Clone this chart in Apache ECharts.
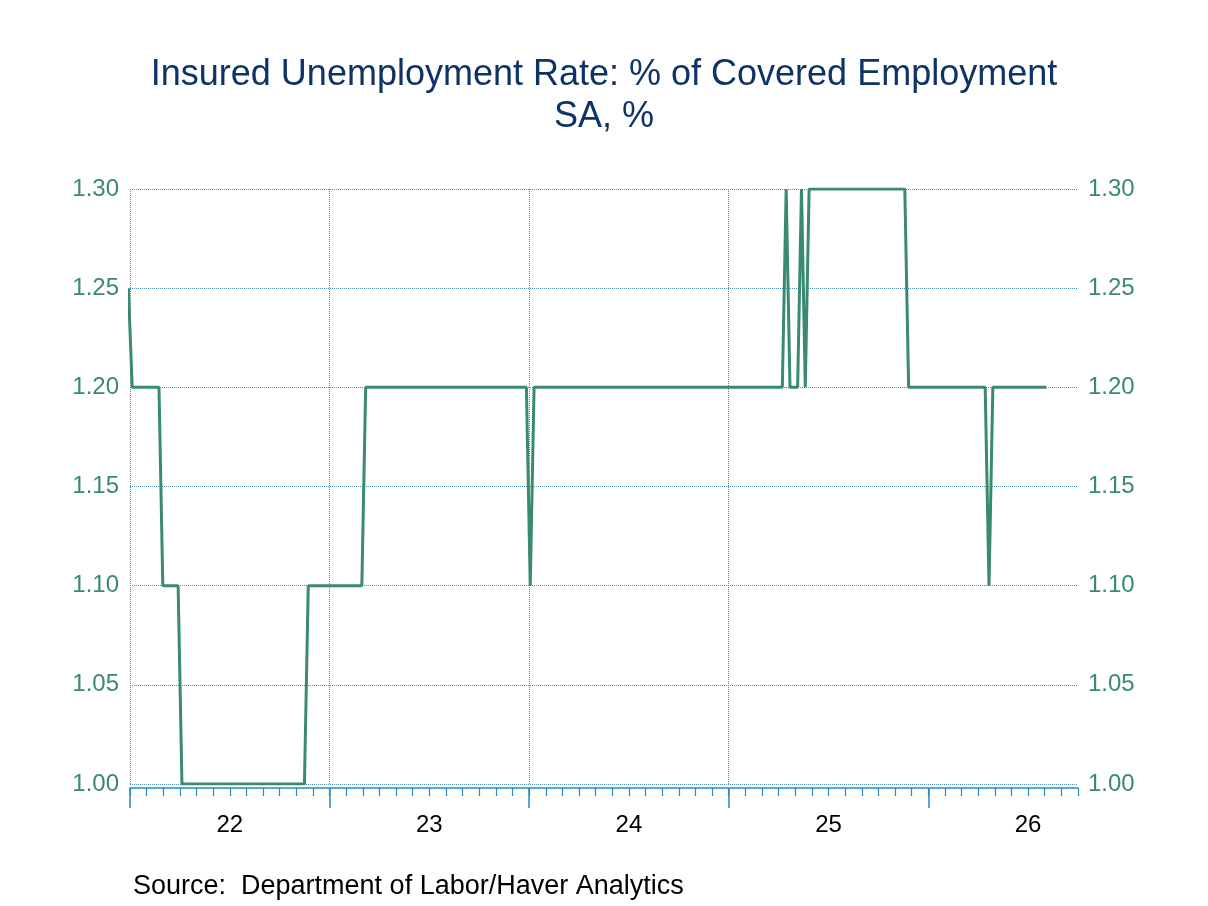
<!DOCTYPE html>
<html>
<head>
<meta charset="utf-8">
<script src="https://cdn.jsdelivr.net/npm/echarts@6/dist/echarts.min.js"></script>
<style>
  html, body { margin: 0; padding: 0; background: #fff; }
  #chart { width: 1208px; height: 906px; }
</style>
</head>
<body>
<div id="chart"></div>
<script>
// weekly readings, first week is 2021-12-29 (just left of the axis start, gets clipped)
const firstWeek = '2021-12-29';
const rate = [
  1.25,
  1.2, 1.2, 1.2, 1.2, 1.2, 1.2, 1.2, 1.2,
  1.1, 1.1, 1.1, 1.1, 1.1,
  1.0, 1.0, 1.0, 1.0, 1.0, 1.0, 1.0, 1.0, 1.0, 1.0,
  1.0, 1.0, 1.0, 1.0, 1.0, 1.0, 1.0, 1.0, 1.0, 1.0,
  1.0, 1.0, 1.0, 1.0, 1.0, 1.0, 1.0, 1.0, 1.0, 1.0,
  1.0, 1.0, 1.0,
  1.1, 1.1, 1.1, 1.1, 1.1, 1.1, 1.1, 1.1, 1.1, 1.1,
  1.1, 1.1, 1.1, 1.1, 1.1,
  1.2, 1.2, 1.2, 1.2, 1.2, 1.2, 1.2, 1.2, 1.2, 1.2,
  1.2, 1.2, 1.2, 1.2, 1.2, 1.2, 1.2, 1.2, 1.2, 1.2,
  1.2, 1.2, 1.2, 1.2, 1.2, 1.2, 1.2, 1.2, 1.2, 1.2,
  1.2, 1.2, 1.2, 1.2, 1.2, 1.2, 1.2, 1.2, 1.2, 1.2,
  1.2, 1.2, 1.2,
  1.1,
  1.2, 1.2, 1.2, 1.2, 1.2, 1.2, 1.2, 1.2, 1.2, 1.2,
  1.2, 1.2, 1.2, 1.2, 1.2, 1.2, 1.2, 1.2, 1.2, 1.2,
  1.2, 1.2, 1.2, 1.2, 1.2, 1.2, 1.2, 1.2, 1.2, 1.2,
  1.2, 1.2, 1.2, 1.2, 1.2, 1.2, 1.2, 1.2, 1.2, 1.2,
  1.2, 1.2, 1.2, 1.2, 1.2, 1.2, 1.2, 1.2, 1.2, 1.2,
  1.2, 1.2, 1.2, 1.2, 1.2, 1.2, 1.2, 1.2, 1.2, 1.2,
  1.2, 1.2, 1.2, 1.2, 1.2, 1.2,
  1.3, 1.2, 1.2, 1.2, 1.3, 1.2,
  1.3, 1.3, 1.3, 1.3, 1.3, 1.3, 1.3, 1.3, 1.3, 1.3,
  1.3, 1.3, 1.3, 1.3, 1.3, 1.3, 1.3, 1.3, 1.3, 1.3,
  1.3, 1.3, 1.3, 1.3, 1.3, 1.3,
  1.2, 1.2, 1.2, 1.2, 1.2, 1.2, 1.2, 1.2, 1.2, 1.2,
  1.2, 1.2, 1.2, 1.2, 1.2, 1.2, 1.2, 1.2, 1.2, 1.2,
  1.2,
  1.1,
  1.2, 1.2, 1.2, 1.2, 1.2, 1.2, 1.2, 1.2, 1.2, 1.2,
  1.2, 1.2, 1.2, 1.2, 1.2
];

const yearTicks = [2022, 2023, 2024, 2025, 2026];
const yearLabelPos = [2022.5, 2023.5, 2024.5, 2025.5, 2026.5];
const yTicks = [1.00, 1.05, 1.10, 1.15, 1.20, 1.25, 1.30];

// date -> fractional year
function toYear(d) {
    const y = d.getUTCFullYear();
    const a = Date.UTC(y, 0, 1), b = Date.UTC(y + 1, 0, 1);
    return y + (d.getTime() - a) / (b - a);
}

const start = new Date(firstWeek + 'T00:00:00Z');
const seriesData = rate.map((v, i) => {
    const d = new Date(start.getTime() + i * 7 * 86400000);
    return [toYear(d), v];
});

const axisBlue = '#2f86b8';
const gridBlue = '#4a8cc0';
const teal = '#3a8a6e';
const font = 'Liberation Sans, Arial, sans-serif';

const chart = echarts.init(document.getElementById('chart'));

const options = {
    animation: false,
    title: [
        {
            text: 'Insured Unemployment Rate: % of Covered Employment',
            left: 'center',
            top: 52,
            textStyle: {fontSize: 36, fontWeight: 'normal', color: '#0e3366', fontFamily: font}
        },
        {
            text: 'SA, %',
            left: 'center',
            top: 94,
            textStyle: {fontSize: 36, fontWeight: 'normal', color: '#0e3366', fontFamily: font}
        },
        {
            text: 'Source:  Department of Labor/Haver Analytics',
            left: 128,
            top: 868,
            textStyle: {fontSize: 27, fontWeight: 'normal', color: '#000', fontFamily: font}
        }
    ],
    grid: {
        left: 130,
        right: 130,
        top: 189,
        bottom: 122
    },
    xAxis: [
        {
            // monthly ticks + the axis line
            type: 'value',
            position: 'bottom',
            min: 2022,
            max: 2026.75,
            interval: 0.25,
            offset: 4,
            axisLine: {show: true, onZero: false, lineStyle: {color: axisBlue, width: 1.5}},
            axisTick: {show: true, length: 8, lineStyle: {color: axisBlue, width: 1.2}},
            minorTick: {show: true, splitNumber: 3, length: 8, lineStyle: {color: axisBlue, width: 1.2}},
            axisLabel: {show: false},
            splitLine: {show: false}
        },
        {
            // year boundaries and labels
            type: 'value',
            position: 'bottom',
            min: 2022,
            max: 2026.75,
            interval: 1,
            offset: 4,
            axisLine: {show: false, onZero: false},
            axisTick: {show: true, customValues: yearTicks, length: 20, lineStyle: {color: axisBlue, width: 1.5}},
            axisLabel: {
                show: true,
                customValues: yearLabelPos,
                margin: 25,
                fontSize: 24,
                color: '#000',
                fontFamily: font,
                formatter: v => String(Math.floor(v) % 100)
            },
            splitLine: {show: true, showMaxLine: false, lineStyle: {color: gridBlue, type: 'dotted', width: 1}}
        }
    ],
    yAxis: [
        {
            type: 'value',
            position: 'left',
            min: yTicks[0],
            max: yTicks[yTicks.length - 1],
            interval: 0.05,
            axisLine: {show: false},
            axisTick: {show: false},
            axisLabel: {color: teal, fontSize: 24, margin: 11, fontFamily: font, formatter: v => v.toFixed(2)},
            splitLine: {show: true, lineStyle: {color: gridBlue, type: 'dotted', width: 1}}
        },
        {
            type: 'value',
            position: 'right',
            min: yTicks[0],
            max: yTicks[yTicks.length - 1],
            interval: 0.05,
            axisLine: {show: false},
            axisTick: {show: false},
            axisLabel: {color: teal, fontSize: 24, margin: 10, fontFamily: font, formatter: v => v.toFixed(2)},
            splitLine: {show: false}
        }
    ],
    series: [
        {
            name: 'Insured Unemployment Rate',
            type: 'line',
            xAxisIndex: 0,
            yAxisIndex: 0,
            data: seriesData,
            showSymbol: false,
            symbol: 'none',
            clip: true,
            lineStyle: {color: teal, width: 3},
            itemStyle: {color: teal}
        }
    ]
};

chart.setOption(options);
</script>
</body>
</html>
